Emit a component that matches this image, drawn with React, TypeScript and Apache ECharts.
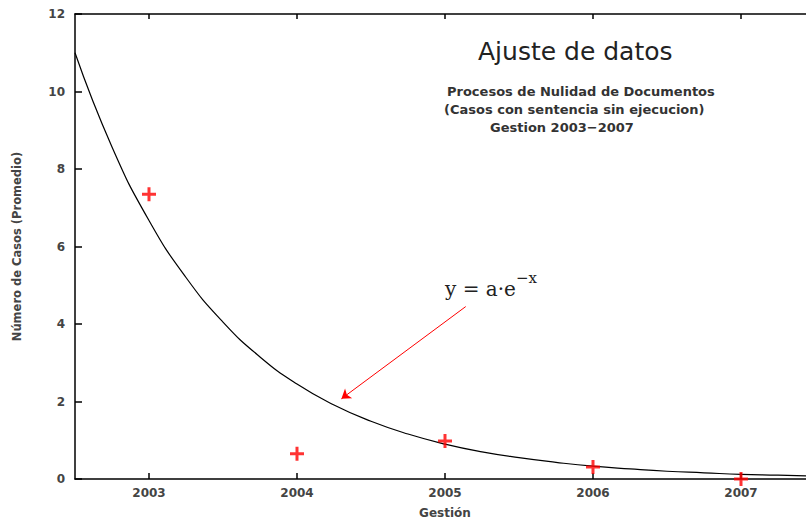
import React, { useEffect, useRef } from "react";
import * as echarts from "echarts";

// Observed data (Gestión, average cases)
const years = [2003, 2004, 2005, 2006, 2007];
const cases = [7.35, 0.65, 0.98, 0.31, 0.0];

// Fitted curve
const curveX = [
  2002.5, 2002.75, 2003.0, 2003.25, 2003.5, 2003.75, 2004.0, 2004.25, 2004.5,
  2004.75, 2005.0, 2005.25, 2005.5, 2005.75, 2006.0, 2006.25, 2006.5, 2006.75,
  2007.0, 2007.25, 2007.5,
];
const curveY = [
  11.0, 8.57, 6.67, 5.2, 4.05, 3.15, 2.45, 1.91, 1.49, 1.16, 0.9, 0.7, 0.55,
  0.43, 0.33, 0.26, 0.2, 0.16, 0.12, 0.1, 0.075,
];

const xTicks = [2003, 2004, 2005, 2006, 2007];
const yTicks = [0, 2, 4, 6, 8, 10, 12];

// Annotation arrow (data coords)
const arrowStart = [2005.14, 4.45];
const arrowEnd = [2004.3, 2.07];

const titleText = "Ajuste de datos";
const subtitleLines = [
  "Procesos de Nulidad de Documentos",
  "(Casos con sentencia sin ejecucion)",
  "Gestion 2003\u22122007",
];

const CROSS = "path://M5.5,0H8.5V5.5H14V8.5H8.5V14H5.5V8.5H0V5.5H5.5Z";

export default function App() {
  const ref = useRef<HTMLDivElement>(null);

  useEffect(() => {
    if (!ref.current) return;
    const chart = echarts.init(ref.current, null, { renderer: "svg" });
    const labelFont = {
      fontFamily: "DejaVu Sans",
      fontWeight: "bold" as const,
      fontSize: 12,
      color: "#444",
    };
    const axisLine = { show: true, lineStyle: { color: "#000", width: 1.5 } };
    const subFont = "bold 13px 'DejaVu Sans'";
    chart.setOption({
      animation: false,
      backgroundColor: "#fff",
      grid: {
        left: 75,
        top: 14,
        width: 740,
        height: 465,
        containLabel: false,
        outerBoundsMode: "none",
      },
      xAxis: [
        {
          type: "value",
          position: "bottom",
          min: 2002.5,
          max: 2007.5,
          name: "Gestión",
          nameLocation: "middle",
          nameGap: 28,
          nameTextStyle: labelFont,
          axisLine,
          axisTick: {
            show: true,
            inside: true,
            length: 6,
            customValues: xTicks,
            lineStyle: { color: "#000", width: 1.5 },
          },
          axisLabel: {
            ...labelFont,
            margin: 8,
            customValues: xTicks,
            formatter: (v: number) => String(Math.round(v)),
          },
          splitLine: { show: false },
        },
        {
          type: "value",
          position: "top",
          min: 2002.5,
          max: 2007.5,
          axisLine,
          axisTick: {
            show: true,
            inside: true,
            length: 5,
            customValues: xTicks,
            lineStyle: { color: "#000", width: 1.5 },
          },
          axisLabel: { show: false },
          splitLine: { show: false },
        },
      ],
      yAxis: {
        type: "value",
        min: 0,
        max: 12,
        interval: 2,
        name: "Número de Casos (Promedio)",
        nameLocation: "middle",
        nameGap: 52,
        nameTextStyle: { ...labelFont, fontSize: 11.5 },
        axisLine,
        axisTick: {
          show: true,
          inside: true,
          length: 7,
          customValues: yTicks,
          lineStyle: { color: "#000", width: 1.5 },
        },
        axisLabel: { ...labelFont, margin: 10, customValues: yTicks },
        splitLine: { show: false },
      },
      series: [
        {
          type: "line",
          data: curveX.map((x, i) => [x, curveY[i]]),
          smooth: true,
          showSymbol: false,
          lineStyle: { color: "#000", width: 1.2 },
          silent: true,
          markLine: {
            silent: true,
            symbol: ["none", "arrow"],
            symbolSize: 9,
            label: { show: false },
            lineStyle: { color: "#ff0000", width: 1, type: "solid" },
            data: [[{ coord: arrowStart }, { coord: arrowEnd }]],
          },
        },
        {
          type: "scatter",
          data: years.map((y, i) => [y, cases[i]]),
          symbol: CROSS,
          symbolSize: 14,
          itemStyle: { color: "#ff0000" },
          z: 5,
        },
      ],
      graphic: [
        {
          type: "text",
          left: 478,
          top: 39,
          style: {
            text: titleText,
            font: "25px 'DejaVu Sans'",
            fill: "#222",
          },
        },
        {
          type: "text",
          left: 447,
          top: 85,
          style: { text: subtitleLines[0], font: subFont, fill: "#333" },
        },
        {
          type: "text",
          left: 444,
          top: 103,
          style: { text: subtitleLines[1], font: subFont, fill: "#333" },
        },
        {
          type: "text",
          left: 490,
          top: 121,
          style: { text: subtitleLines[2], font: subFont, fill: "#333" },
        },
        {
          type: "text",
          left: 445,
          top: 279,
          style: {
            text: "y = a·e",
            font: "20px 'DejaVu Serif'",
            fill: "#222",
          },
        },
        {
          type: "text",
          left: 516,
          top: 270,
          style: {
            text: "\u2212x",
            font: "15px 'DejaVu Serif'",
            fill: "#222",
          },
        },
      ],
    });
    return () => chart.dispose();
  }, []);

  return (
    <div
      ref={ref}
      style={{ position: "fixed", left: 0, top: 0, width: 806, height: 522 }}
    />
  );
}
